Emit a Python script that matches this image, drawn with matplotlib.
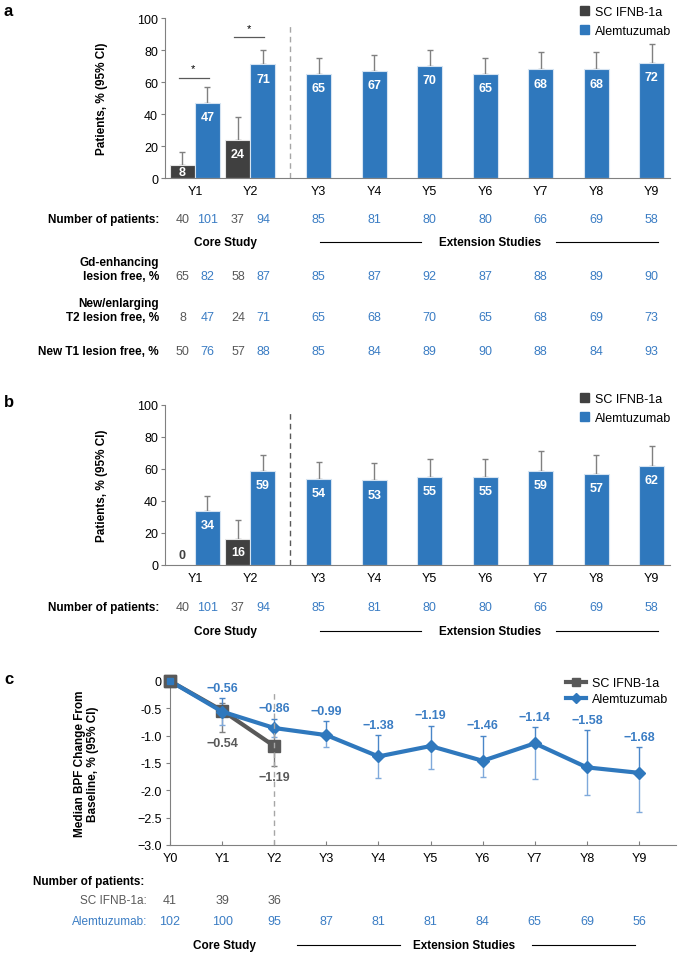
import matplotlib
matplotlib.use('Agg')
import numpy as np
import matplotlib.pyplot as plt
from matplotlib.transforms import blended_transform_factory as btf
from matplotlib.lines import Line2D
from matplotlib.patches import Patch

plt.rcParams['font.family'] = ['Liberation Sans Narrow', 'Liberation Sans', 'DejaVu Sans']

# ---------------- data ----------------
years_ab = ['Y1', 'Y2', 'Y3', 'Y4', 'Y5', 'Y6', 'Y7', 'Y8', 'Y9']
a_sc = [8, 24]
a_sc_hi = [16, 38]
a_alem = [47, 71, 65, 67, 70, 65, 68, 68, 72]
a_alem_hi = [57, 80, 75, 77, 80, 75, 79, 79, 83.5]

n_sc = [40, 37]
n_alem = [101, 94, 85, 81, 80, 80, 66, 69, 58]
gd_sc = [65, 58]
gd_alem = [82, 87, 85, 87, 92, 87, 88, 89, 90]
t2_sc = [8, 24]
t2_alem = [47, 71, 65, 68, 70, 65, 68, 69, 73]
t1_sc = [50, 57]
t1_alem = [76, 88, 85, 84, 89, 90, 88, 84, 93]

b_sc = [0, 16]
b_sc_hi = [0, 28]
b_alem = [34, 59, 54, 53, 55, 55, 59, 57, 62]
b_alem_hi = [43, 69, 64.5, 64, 66, 66, 71, 68.5, 74.5]

years_c = ['Y0', 'Y1', 'Y2', 'Y3', 'Y4', 'Y5', 'Y6', 'Y7', 'Y8', 'Y9']
c_alem = [0, -0.56, -0.86, -0.99, -1.38, -1.19, -1.46, -1.14, -1.58, -1.68]
c_alem_lo = [np.nan, -0.80, -1.02, -1.21, -1.77, -1.61, -1.76, -1.79, -2.08, -2.39]
c_alem_hi = [np.nan, -0.32, -0.69, -0.73, -0.99, -0.82, -1.00, -0.85, -0.90, -1.21]
c_sc = [0, -0.54, -1.19]
c_sc_lo = [np.nan, -0.93, -1.55]
c_sc_hi = [np.nan, -0.40, -0.88]
nc_sc = [41, 39, 36]
nc_alem = [102, 100, 95, 87, 81, 81, 84, 65, 69, 56]

# ---------------- style ----------------
BLUE = '#2f78bd'
BLUE_T = '#3b7dc4'
GREY = '#404040'
GREY_T = '#595959'
AX = '#808080'
W, H = 685, 954

fig = plt.figure(figsize=(W / 100, H / 100), dpi=100)


def px_axes(l, t, r, b):
    return fig.add_axes([l / W, 1 - b / H, (r - l) / W, (b - t) / H])


def fy(y):
    return 1 - y / H


def fx(x):
    return x / W


xab = np.array([0, 1, 2.23, 3.23, 4.23, 5.23, 6.23, 7.23, 8.23])
off = 0.225
bw = 0.45


def bar_panel(ax, sc, sc_hi, alem, alem_hi, dash_color):
    ax.set_xlim(-0.54, 8.56)
    ax.set_ylim(0, 100)
    xs_sc = xab[:2] - off
    xs_al = xab.copy()
    xs_al[:2] = xab[:2] + off
    ax.bar(xs_sc, sc, width=bw, color=GREY, edgecolor='#e6e6e6', linewidth=0.8, zorder=2)
    ax.bar(xs_al, alem, width=bw, color=BLUE, edgecolor='#d6e4f2', linewidth=0.8, zorder=2)
    sc_err = [np.zeros(2), np.array(sc_hi) - np.array(sc)]
    al_err = [np.zeros(9), np.array(alem_hi) - np.array(alem)]
    mask = np.array(sc_hi) > np.array(sc)
    ax.errorbar(xs_sc[mask], np.array(sc)[mask], yerr=[sc_err[0][mask], sc_err[1][mask]],
                fmt='none', ecolor=AX, elinewidth=1, capsize=2.5, capthick=1, zorder=1)
    ax.errorbar(xs_al, alem, yerr=al_err, fmt='none', ecolor=AX, elinewidth=1,
                capsize=2.5, capthick=1, zorder=1)
    for x, v in zip(xs_sc, sc):
        if v == 0:
            ax.text(x, 6, '0', ha='center', va='center', color=GREY, fontsize=9, fontweight='bold')
        else:
            y = v - 9 if v >= 18 else v / 2
            ax.text(x, y, str(v), ha='center', va='center', color='white', fontsize=9, fontweight='bold')
    for x, v in zip(xs_al, alem):
        ax.text(x, v - 9, str(v), ha='center', va='center', color='white', fontsize=9, fontweight='bold')
    ax.plot([1.71, 1.71], [0, 97], ls=(0, (4, 3)), color=dash_color, lw=1, zorder=1)
    for s in ['top', 'right']:
        ax.spines[s].set_visible(False)
    for s in ['left', 'bottom']:
        ax.spines[s].set_color(AX)
        ax.spines[s].set_linewidth(0.8)
    ax.set_yticks([0, 20, 40, 60, 80, 100])
    ax.set_xticks(xab)
    ax.set_xticklabels(years_ab)
    ax.tick_params(axis='y', length=3, color=AX, labelsize=9, pad=2)
    ax.tick_params(axis='x', length=0, labelsize=9, pad=5)
    ax.set_ylabel('Patients, % (95% CI)', fontsize=8.5, fontweight='bold')
    ax.yaxis.set_label_coords(-0.112, 0.5)
    ax.legend(handles=[Patch(color=GREY), Patch(color=BLUE)],
              labels=['SC IFNB-1a', 'Alemtuzumab'], loc='upper left',
              bbox_to_anchor=(fx(575), ax.get_position().y1 + 17 / H), bbox_transform=fig.transFigure,
              frameon=False, handlelength=0.75, handleheight=0.75, handletextpad=0.45,
              labelspacing=0.55, fontsize=9, borderaxespad=0)


def row(ax, ypx, sc_vals, al_vals, xs_sc, xs_al):
    tr = btf(ax.transData, fig.transFigure)
    for x, v in zip(xs_sc, sc_vals):
        ax.text(x, fy(ypx), str(v), transform=tr, ha='center', va='center', color=GREY_T, fontsize=9)
    for x, v in zip(xs_al, al_vals):
        ax.text(x, fy(ypx), str(v), transform=tr, ha='center', va='center', color=BLUE_T, fontsize=9)


def label(ypx, text, x=159, ha='right', color='black', bold=True):
    fig.text(fx(x), fy(ypx), text, ha=ha, va='center', fontsize=8.5,
             fontweight='bold' if bold else 'normal', color=color, linespacing=1.3)


def study_row(ypx, core_x, ext_x, l1, l2):
    fig.text(fx(core_x), fy(ypx), 'Core Study', ha='center', va='center', fontsize=8.5, fontweight='bold')
    fig.text(fx(ext_x), fy(ypx), 'Extension Studies', ha='center', va='center', fontsize=8.5, fontweight='bold')
    for a, b in (l1, l2):
        fig.add_artist(Line2D([fx(a), fx(b)], [fy(ypx), fy(ypx)], transform=fig.transFigure,
                              color='black', lw=0.8))


xs_sc_tab = xab[:2] - off
xs_al_tab = xab.copy()
xs_al_tab[:2] = xab[:2] + off

# ---------------- panel a ----------------
ax_a = px_axes(165, 19, 670, 179)
bar_panel(ax_a, a_sc, a_sc_hi, a_alem, a_alem_hi, '#a6a6a6')
for xc_, ly, sy in [(0, 62.7, 68.5), (1, 88.3, 94)]:
    ax_a.plot([xc_ - 0.29, xc_ + 0.25], [ly, ly], color='#595959', lw=0.9)
    ax_a.text(xc_ - 0.03, sy, '*', ha='center', va='center', fontsize=8, color='black')
fig.text(fx(4), fy(12), 'a', fontsize=12, fontweight='bold', va='center')

row(ax_a, 220, n_sc, n_alem, xs_sc_tab, xs_al_tab)
label(220, 'Number of patients:')
study_row(243, 225, 490, (320, 421), (556, 658))
label(270, 'Gd-enhancing\nlesion free, %')
row(ax_a, 277, gd_sc, gd_alem, xs_sc_tab, xs_al_tab)
label(311, 'New/enlarging\nT2 lesion free, %')
row(ax_a, 318, t2_sc, t2_alem, xs_sc_tab, xs_al_tab)
label(352, 'New T1 lesion free, %')
row(ax_a, 352, t1_sc, t1_alem, xs_sc_tab, xs_al_tab)

# ---------------- panel b ----------------
ax_b = px_axes(165, 406, 670, 566)
bar_panel(ax_b, b_sc, b_sc_hi, b_alem, b_alem_hi, '#595959')
fig.text(fx(4), fy(403), 'b', fontsize=12, fontweight='bold', va='center')
row(ax_b, 608, n_sc, n_alem, xs_sc_tab, xs_al_tab)
label(608, 'Number of patients:')
study_row(632, 225, 490, (320, 421), (556, 658))

# ---------------- panel c ----------------
ax_c = px_axes(170, 682, 676, 846)
xc = np.arange(len(years_c))
ax_c.set_xlim(0, 9.71)
ax_c.set_ylim(-3.0, 0.0)
ax_c.plot([2, 2], [-3.0, -0.18], ls=(0, (4, 3)), color='#a6a6a6', lw=1, zorder=6)

al = np.array(c_alem)
alo = np.array(c_alem_lo)
ahi = np.array(c_alem_hi)
sc = np.array(c_sc)
slo = np.array(c_sc_lo)
shi = np.array(c_sc_hi)
ax_c.errorbar(xc[:3], sc, yerr=[sc - slo, shi - sc], fmt='none', ecolor='#7f7f7f',
              elinewidth=1, capsize=2.5, capthick=1, zorder=2)
ax_c.errorbar(xc, al, yerr=[np.zeros_like(al), ahi - al], fmt='none', ecolor='#4a86c8',
              elinewidth=1, capsize=2.5, capthick=1, zorder=2)
ax_c.errorbar(xc, al, yerr=[al - alo, np.zeros_like(al)], fmt='none', ecolor='#7fa9db',
              elinewidth=1, capsize=2.5, capthick=1, zorder=2)
ax_c.plot(xc[:3], sc, color='#595959', lw=3, marker='s', ms=8, mfc='#595959', mec='#595959',
          zorder=3, clip_on=False, label='SC IFNB-1a')
ax_c.plot(xc, al, color=BLUE, lw=3, marker='D', ms=6, mfc=BLUE, mec=BLUE,
          zorder=4, clip_on=False, label='Alemtuzumab')
ax_c.plot(xc[:1], sc[:1], ls='none', marker='s', ms=8, mfc='#595959', mec='#595959',
          zorder=4.5, clip_on=False)
ax_c.plot(xc[:1], al[:1], ls='none', marker='s', ms=5, mfc=BLUE, mec=BLUE,
          zorder=4.6, clip_on=False)
for x, v, h in zip(xc[1:], al[1:], ahi[1:]):
    ax_c.text(x, h + 0.19, f'\u2212{abs(v):.2f}', ha='center', va='center', color=BLUE_T,
              fontsize=9, fontweight='bold', zorder=5)
for x, v, l in zip(xc[1:3], sc[1:], slo[1:]):
    ax_c.text(x, l - 0.21, f'\u2212{abs(v):.2f}', ha='center', va='center', color=GREY_T,
              fontsize=9, fontweight='bold', zorder=5)
for s in ['top', 'right']:
    ax_c.spines[s].set_visible(False)
for s in ['left', 'bottom']:
    ax_c.spines[s].set_color(AX)
    ax_c.spines[s].set_linewidth(0.8)
ax_c.set_xticks(xc)
ax_c.set_xticklabels(years_c)
ax_c.set_yticks([0, -0.5, -1.0, -1.5, -2.0, -2.5, -3.0])
ax_c.set_yticklabels(['0', '-0.5', '-1.0', '-1.5', '-2.0', '\u22122.5', '\u22123.0'])
ax_c.tick_params(axis='y', length=3, color=AX, labelsize=9, pad=3)
ax_c.tick_params(axis='x', length=3, direction='in', color=AX, labelsize=9, pad=5)
ax_c.set_ylabel('Median BPF Change From\nBaseline, % (95% CI)', fontsize=8.5, fontweight='bold',
                linespacing=1.1)
ax_c.yaxis.set_label_coords(-0.14, 0.5)
ax_c.legend(loc='upper left', bbox_to_anchor=(fx(561), fy(673)), bbox_transform=fig.transFigure,
            frameon=False, handlelength=1.6, handletextpad=0.5, labelspacing=0.35, fontsize=9,
            borderaxespad=0, markerscale=0.8)
fig.text(fx(4), fy(679), 'c', fontsize=12, fontweight='bold', va='center')

label(882, 'Number of patients:', x=33, ha='left')
label(901, 'SC IFNB-1a:', x=147, color=GREY_T, bold=False)
label(922, 'Alemtuzumab:', x=147, color=BLUE_T, bold=False)
trc = btf(ax_c.transData, fig.transFigure)
for x, v in zip(xc[:3], nc_sc):
    ax_c.text(x, fy(901), str(v), transform=trc, ha='center', va='center', color=GREY_T, fontsize=9)
for x, v in zip(xc, nc_alem):
    ax_c.text(x, fy(922), str(v), transform=trc, ha='center', va='center', color=BLUE_T, fontsize=9)
study_row(946, 224, 464, (297, 400), (532, 635))

fig.savefig('out.png', dpi=100)
